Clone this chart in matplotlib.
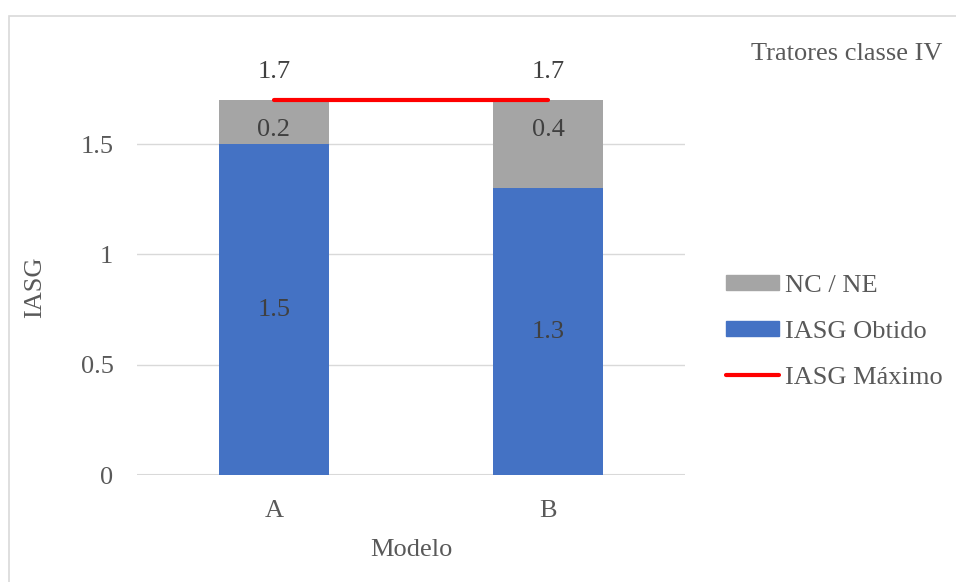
import matplotlib
matplotlib.use("Agg")
import matplotlib.pyplot as plt
from matplotlib.patches import Patch, Rectangle
from matplotlib.lines import Line2D
import numpy as np

plt.rcParams['font.family'] = ['Liberation Serif', 'DejaVu Serif']

modelos = ["A", "B"]
iasg_obtido = [1.5, 1.3]
nc_ne = [0.2, 0.4]
iasg_maximo = [1.7, 1.7]
yticks = [0, 0.5, 1, 1.5]

azul = "#4472C4"
cinza = "#A5A5A5"
vermelho = "#FF0000"
texto = "#595959"
rotulo = "#404040"
fs = 19

fig = plt.figure(figsize=(9.56, 5.82), dpi=100)
W, H = 956, 582
ax = fig.add_axes([137 / W, 1 - 475 / H, (685 - 137) / W, (475 - 100) / H])

x = np.arange(len(modelos))
largura = 0.4
b1 = ax.bar(x, iasg_obtido, width=largura, color=azul, zorder=2)
b2 = ax.bar(x, nc_ne, width=largura, bottom=iasg_obtido, color=cinza, zorder=2)
ax.plot(x, iasg_maximo, color=vermelho, lw=3, solid_capstyle="round", zorder=3,
        clip_on=False)

# data labels
for xi, v in zip(x, iasg_obtido):
    ax.text(xi, v / 2, f"{v:.1f}", ha="center", va="center", fontsize=fs, color=rotulo)
for xi, base, v in zip(x, iasg_obtido, nc_ne):
    ax.text(xi, base + v - 0.135, f"{v:.1f}", ha="center", va="center", fontsize=fs,
            color=rotulo)
for xi, v in zip(x, iasg_maximo):
    ax.annotate(f"{v:.1f}", (xi, v), xytext=(0, 20), textcoords="offset points",
                ha="center", va="center", fontsize=fs, color=rotulo, annotation_clip=False)

ax.set_xlim(-0.5, len(modelos) - 0.5)
ax.set_ylim(0, 1.7)
ax.set_xticks(x)
ax.set_xticklabels(modelos)
ax.set_yticks(yticks)
ax.set_yticklabels([f"{t:g}" for t in yticks])
ax.tick_params(axis="both", length=0, labelsize=fs, colors=texto)
ax.tick_params(axis="y", pad=17)
ax.tick_params(axis="x", pad=18)
ax.grid(axis="y", color="#D9D9D9", lw=1, zorder=0)
for s in ax.spines.values():
    s.set_visible(False)
ax.axhline(0, color="#D9D9D9", lw=1.5, zorder=1)

ax.set_ylabel("IASG", fontsize=fs, color=texto, labelpad=25)
ax.set_xlabel("Modelo", fontsize=fs, color=texto, labelpad=12)

fig.text(942 / W, 1 - 54 / H, "Tratores classe IV", ha="right", va="center",
         fontsize=fs, color=texto)

handles = [Patch(color=cinza), Patch(color=azul),
           Line2D([0], [0], color=vermelho, lw=3, solid_capstyle="round")]
labels = ["NC / NE", "IASG Obtido", "IASG Máximo"]
leg = fig.legend(handles, labels, loc="center left", bbox_to_anchor=(726 / W, 1 - 332 / H),
                 frameon=False, fontsize=fs, handlelength=2.0, handleheight=0.5,
                 handletextpad=0.25, labelspacing=0.9, borderpad=0, borderaxespad=0)
for t in leg.get_texts():
    t.set_color(texto)

fig.add_artist(Rectangle((9 / W, -0.05), 1.2, 1 - 16 / H + 0.05, transform=fig.transFigure,
                         fill=False, edgecolor="#D9D9D9", lw=1.2))

fig.savefig("out.png", dpi=100)
